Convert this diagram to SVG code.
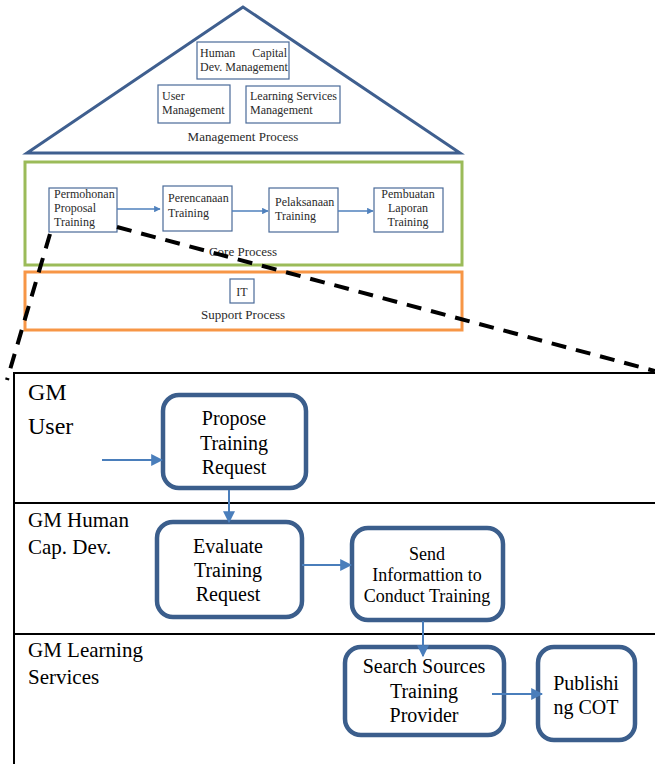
<svg xmlns="http://www.w3.org/2000/svg" width="655" height="764" viewBox="0 0 655 764">
  <style>
    .mini { fill: #ffffff; stroke: #4a6a98; stroke-width: 1.2; }
    .step { fill: #ffffff; stroke: #3b5e8c; stroke-width: 4.5; }
    .flow { stroke: #4a7ebb; stroke-width: 2; fill: none; }
    .thin { stroke: #4f81bd; stroke-width: 1.3; fill: none; }
    .frame { stroke: #000000; stroke-width: 2; fill: none; }
    .zoomline { stroke: #000000; stroke-width: 4; stroke-dasharray: 15 10; fill: none; }
  </style>
  <defs>
    <marker id="arrowSmall" viewBox="0 0 10 10" refX="9" refY="5" markerWidth="5" markerHeight="5" orient="auto" markerUnits="strokeWidth">
      <path d="M0,0 L10,5 L0,10 z" fill="#4f81bd"/>
    </marker>
    <marker id="arrowBig" viewBox="0 0 10 10" refX="9" refY="5" markerWidth="6" markerHeight="6" orient="auto" markerUnits="strokeWidth">
      <path d="M0,0 L10,5 L0,10 z" fill="#4a7ebb"/>
    </marker>
  </defs>
  <rect width="655" height="764" fill="#ffffff"/>

  <g font-family="'Liberation Serif', 'DejaVu Serif', serif">
    <!-- upper house: management / core / support -->
    <g font-size="12" fill="#2a2a2a">
      <g id="management-process">
        <polygon points="243,7 27,153 460,153" fill="#ffffff" stroke="#3f5f8f" stroke-width="3"/>
        <text x="243" y="141" font-size="13" text-anchor="middle">Management Process</text>
      </g>
      <g id="human-capital-mgmt">
        <rect class="mini" x="197" y="42" width="92" height="37"/>
        <text x="200" y="57">Human</text>
        <text x="287" y="57" text-anchor="end">Capital</text>
        <text x="200" y="71">Dev. Management</text>
      </g>
      <g id="user-mgmt">
        <rect class="mini" x="158" y="85" width="72" height="38"/>
        <text x="162" y="100">User</text>
        <text x="162" y="114">Management</text>
      </g>
      <g id="learning-services-mgmt">
        <rect class="mini" x="246" y="86" width="94" height="37"/>
        <text x="250" y="100">Learning Services</text>
        <text x="250" y="114">Management</text>
      </g>

      <g id="core-process">
        <rect x="25" y="162" width="437" height="103" fill="#ffffff" stroke="#9bbb59" stroke-width="3"/>
        <text x="243" y="256" font-size="13" text-anchor="middle">Core Process</text>
      </g>
      <g id="permohonan">
        <rect class="mini" x="49" y="188" width="68" height="44"/>
        <text x="54" y="198">Permohonan</text>
        <text x="54" y="212">Proposal</text>
        <text x="54" y="226">Training</text>
      </g>
      <g id="perencanaan">
        <rect class="mini" x="163" y="186" width="69" height="45"/>
        <text x="168" y="202">Perencanaan</text>
        <text x="168" y="217">Training</text>
      </g>
      <g id="pelaksanaan">
        <rect class="mini" x="269" y="188" width="69" height="44"/>
        <text x="275" y="206">Pelaksanaan</text>
        <text x="275" y="220">Training</text>
      </g>
      <g id="pembuatan" text-anchor="middle">
        <rect class="mini" x="374" y="188" width="69" height="44"/>
        <text x="408" y="198">Pembuatan</text>
        <text x="408" y="212">Laporan</text>
        <text x="408" y="226">Training</text>
      </g>

      <g id="support-process">
        <rect x="25" y="272" width="437" height="58" fill="#ffffff" stroke="#f79646" stroke-width="3"/>
        <text x="243" y="319" font-size="13" text-anchor="middle">Support Process</text>
      </g>
      <g id="it">
        <rect class="mini" x="230" y="279" width="24" height="24"/>
        <text x="242" y="296" text-anchor="middle">IT</text>
      </g>
    </g>

    <!-- swimlane frame and lane titles -->
    <g id="swimlanes" font-size="21" fill="#000000">
      <line class="frame" x1="13" y1="373" x2="655" y2="373"/>
      <line class="frame" x1="14" y1="373" x2="14" y2="764"/>
      <line class="frame" x1="13" y1="503" x2="655" y2="503"/>
      <line class="frame" x1="13" y1="634" x2="655" y2="634"/>
      <text x="28" y="400" font-size="24">GM</text>
      <text x="28" y="434" font-size="24">User</text>
      <text x="28" y="527">GM Human</text>
      <text x="28" y="554">Cap. Dev.</text>
      <text x="28" y="657">GM Learning</text>
      <text x="28" y="684">Services</text>
    </g>

    <!-- process steps -->
    <g font-size="20" fill="#000000" text-anchor="middle">
      <g id="propose">
        <rect class="step" x="163" y="395" width="143" height="93" rx="16"/>
        <text x="234" y="425">Propose</text>
        <text x="234" y="450">Training</text>
        <text x="234" y="474">Request</text>
      </g>
      <g id="evaluate">
        <rect class="step" x="157" y="522" width="145" height="95" rx="16"/>
        <text x="228" y="553">Evaluate</text>
        <text x="228" y="577">Training</text>
        <text x="228" y="601">Request</text>
      </g>
      <g id="send-info" font-size="18">
        <rect class="step" x="352" y="528" width="151" height="92" rx="16"/>
        <text x="427" y="560">Send</text>
        <text x="427" y="581">Informattion to</text>
        <text x="427" y="602">Conduct Training</text>
      </g>
      <g id="search-sources">
        <rect class="step" x="345" y="647" width="159" height="88" rx="16"/>
        <text x="424" y="673">Search Sources</text>
        <text x="424" y="698">Training</text>
        <text x="424" y="722">Provider</text>
      </g>
      <g id="publishing-cot">
        <rect class="step" x="538" y="647" width="97" height="93" rx="16"/>
        <text x="586" y="690">Publishi</text>
        <text x="586" y="714">ng COT</text>
      </g>
    </g>
  </g>

  <!-- Connectors -->
  <g id="connectors">
    <line class="thin" x1="117" y1="209" x2="160" y2="209" marker-end="url(#arrowSmall)"/>
    <line class="thin" x1="232" y1="211" x2="268" y2="211" marker-end="url(#arrowSmall)"/>
    <line class="thin" x1="338" y1="211" x2="373" y2="211" marker-end="url(#arrowSmall)"/>

    <line class="zoomline" x1="50" y1="234" x2="7" y2="380"/>
    <line class="zoomline" x1="117" y1="227" x2="655" y2="371"/>

    <line class="flow" x1="102" y1="460" x2="162" y2="460" marker-end="url(#arrowBig)"/>
    <line class="flow" x1="229" y1="490" x2="229" y2="522" marker-end="url(#arrowBig)"/>
    <line class="flow" x1="302" y1="565" x2="351" y2="565" marker-end="url(#arrowBig)"/>
    <line class="flow" x1="423" y1="621" x2="423" y2="656" marker-end="url(#arrowBig)"/>
    <line class="flow" x1="492" y1="694" x2="542" y2="694" marker-end="url(#arrowBig)"/>
  </g>
</svg>
